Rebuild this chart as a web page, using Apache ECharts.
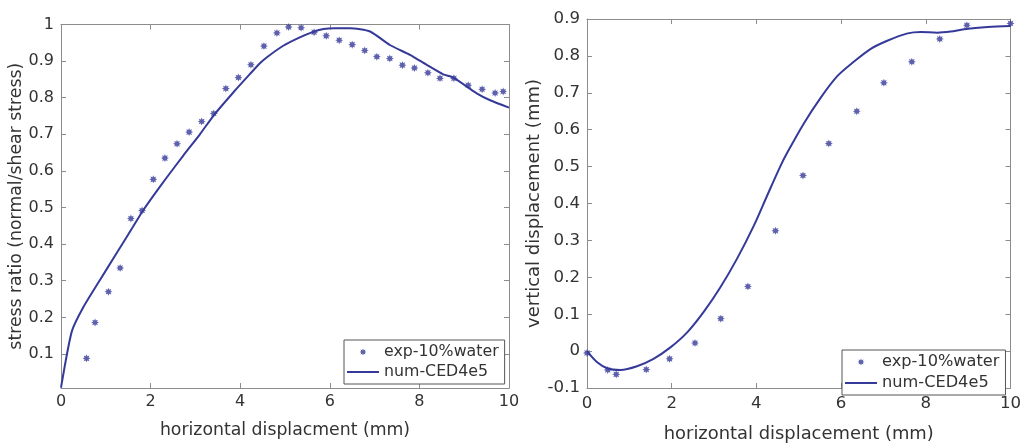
<!DOCTYPE html>
<html>
<head>
<meta charset="utf-8">
<script src="https://cdn.jsdelivr.net/npm/echarts@6/dist/echarts.min.js"></script>
<style>
html,body{margin:0;padding:0;background:#fff;}
#chart{width:1027px;height:448px;}
</style>
</head>
<body>
<div id="chart"></div>
<script>
// ---- data ----
const seriesNames = ['exp-10%water', 'num-CED4e5'];

// left panel: stress ratio vs horizontal displacement
const stressExpX = [0.57,0.76,1.06,1.32,1.56,1.81,2.06,2.32,2.59,2.86,3.14,3.41,3.68,3.96,4.24,4.53,4.82,5.08,5.36,5.65,5.92,6.21,6.50,6.78,7.05,7.34,7.62,7.89,8.19,8.46,8.77,9.09,9.40,9.69,9.87];
const stressExpY = [0.088,0.186,0.270,0.335,0.470,0.492,0.577,0.635,0.674,0.706,0.735,0.757,0.825,0.855,0.890,0.941,0.977,0.993,0.991,0.979,0.969,0.957,0.945,0.929,0.912,0.907,0.889,0.881,0.868,0.853,0.853,0.834,0.823,0.813,0.817];
const stressNumX = [0,0.24,0.5,0.87,1.24,1.61,1.81,2.06,2.36,2.73,3.10,3.41,3.85,4.22,4.44,4.59,4.96,5.33,5.63,5.86,6.1,6.45,6.9,7.34,7.79,8.16,8.53,8.76,9.28,9.58,10];
const stressNumY = [0.008,0.161,0.228,0.302,0.375,0.448,0.488,0.532,0.582,0.642,0.70,0.752,0.815,0.865,0.894,0.91,0.942,0.965,0.98,0.988,0.99,0.99,0.981,0.944,0.917,0.89,0.864,0.855,0.812,0.793,0.773];

// right panel: vertical displacement vs horizontal displacement
const vertExpX = [0,0.49,0.69,1.40,1.95,2.55,3.16,3.80,4.45,5.10,5.71,6.37,7.01,7.67,8.33,8.97,10];
const vertExpY = [-0.005,-0.051,-0.063,-0.050,-0.021,0.022,0.088,0.175,0.326,0.476,0.5625,0.650,0.727,0.784,0.846,0.883,0.888];
const vertNumX = [0,0.24,0.49,0.79,1.18,1.57,1.97,2.36,2.76,3.15,3.55,3.94,4.26,4.57,4.73,5.12,5.52,5.91,6.30,6.70,7.09,7.57,7.88,8.27,8.59,8.90,9.46,10];
const vertNumY = [0,-0.030,-0.047,-0.051,-0.041,-0.021,0.010,0.050,0.107,0.173,0.252,0.340,0.423,0.502,0.538,0.617,0.687,0.745,0.784,0.819,0.841,0.861,0.865,0.863,0.866,0.872,0.878,0.881];

// tick labels
const xTicks = [0,2,4,6,8,10];
const stressYTicks = [0.1,0.2,0.3,0.4,0.5,0.6,0.7,0.8,0.9,1];
const vertYTicks = [-0.1,0,0.1,0.2,0.3,0.4,0.5,0.6,0.7,0.8,0.9];

// ---- styling ----
const BLUE = '#353a99';
const AXIS = '#8c8c8c';
const TXT = '#333333';
const FONT = 'DejaVu Sans';

function zip(xs, ys){ return xs.map((x,i)=>[x, ys[i]]); }

// asterisk-like 8-point star symbol shape
function starPath(){
  const pts = [];
  for (let i=0;i<16;i++){
    const a = Math.PI*i/8 - Math.PI/2;
    const r = (i%2===0) ? 10 : 5.5;
    pts.push((10+r*Math.cos(a)).toFixed(2)+','+(10+r*Math.sin(a)).toFixed(2));
  }
  return 'path://M'+pts.join('L')+'Z';
}
const STAR = starPath();
const LINE_ICON = 'path://M0,0L32,0L32,2L0,2Z';

function fmt(v){ return String(Math.round(v*10)/10); }

function mainX(gridIndex, fs, margin, nameGap){
  return {
    type:'value', gridIndex, min:0, max:10, interval:2, position:'bottom',
    name:'', nameLocation:'middle', nameGap,
    nameTextStyle:{color:TXT, fontFamily:FONT, fontSize:fs+1.3},
    axisLine:{show:true, onZero:false, lineStyle:{color:AXIS, width:1}},
    axisTick:{show:true, inside:true, length:5, lineStyle:{color:AXIS}},
    axisLabel:{show:true, color:TXT, fontFamily:FONT, fontSize:fs, margin, formatter:(v)=>fmt(v)},
    splitLine:{show:false}
  };
}
function topX(gridIndex){
  return {
    type:'value', gridIndex, min:0, max:10, interval:2, position:'top',
    axisLine:{show:true, onZero:false, lineStyle:{color:AXIS, width:1}},
    axisTick:{show:true, inside:true, length:5, lineStyle:{color:AXIS}},
    axisLabel:{show:false}, splitLine:{show:false}
  };
}

const xs0 = mainX(0, 16, 6, 34); xs0.name = 'horizontal displacment (mm)';
const xs1 = mainX(1, 16.6, 7, 37); xs1.name = 'horizontal displacement (mm)';

const yLeft = {
  type:'value', gridIndex:0, min:0.007, max:1, position:'left',
  name:'stress ratio (normal/shear stress)', nameLocation:'middle', nameRotate:90, nameGap:36,
  nameTextStyle:{color:TXT, fontFamily:FONT, fontSize:17.3},
  axisLine:{show:true, onZero:false, lineStyle:{color:AXIS, width:1}},
  axisTick:{show:true, inside:true, length:5, customValues:stressYTicks, lineStyle:{color:AXIS}},
  axisLabel:{show:true, color:TXT, fontFamily:FONT, fontSize:16, margin:7, customValues:stressYTicks, formatter:(v)=>fmt(v)},
  splitLine:{show:false}
};
const yLeftR = {
  type:'value', gridIndex:0, min:0.007, max:1, position:'right',
  axisLine:{show:true, onZero:false, lineStyle:{color:AXIS, width:1}},
  axisTick:{show:true, inside:true, length:5, customValues:stressYTicks, lineStyle:{color:AXIS}},
  axisLabel:{show:false}, splitLine:{show:false}
};
const yRight = {
  type:'value', gridIndex:1, min:-0.1, max:0.9, position:'left',
  name:'vertical displacement (mm)', nameLocation:'middle', nameRotate:90, nameGap:44,
  nameTextStyle:{color:TXT, fontFamily:FONT, fontSize:18},
  axisLine:{show:true, onZero:false, lineStyle:{color:AXIS, width:1}},
  axisTick:{show:true, inside:true, length:5, customValues:vertYTicks, lineStyle:{color:AXIS}},
  axisLabel:{show:true, color:TXT, fontFamily:FONT, fontSize:16.6, margin:7, customValues:vertYTicks, formatter:(v)=>fmt(v)},
  splitLine:{show:false}
};
const yRightR = {
  type:'value', gridIndex:1, min:-0.1, max:0.9, position:'right',
  axisLine:{show:true, onZero:false, lineStyle:{color:AXIS, width:1}},
  axisTick:{show:true, inside:true, length:5, customValues:vertYTicks, lineStyle:{color:AXIS}},
  axisLabel:{show:false}, splitLine:{show:false}
};

function legendCfg(left, top, fs, gap){
  return {
    orient:'vertical', left, top,
    data:[{name:seriesNames[0], icon:STAR}, {name:seriesNames[1], icon:LINE_ICON}],
    itemWidth:32, itemHeight:7, itemGap:gap,
    padding:[4,6,4,3],
    borderColor:'#555', borderWidth:1, backgroundColor:'#fff',
    textStyle:{color:TXT, fontFamily:FONT, fontSize:fs},
    selectedMode:false
  };
}

const option = {
  animation:false,
  backgroundColor:'#fff',
  grid:[
    {left:61, top:24.5, width:448, height:363.5},
    {left:587, top:19, width:423.5, height:379.5}
  ],
  xAxis:[xs0, topX(0), xs1, topX(1)],
  yAxis:[yLeft, yLeftR, yRight, yRightR],
  legend:[legendCfg(344, 340, 15.8, 4), legendCfg(842, 350, 16.2, 5)],
  series:[
    {name:seriesNames[0], type:'scatter', xAxisIndex:0, yAxisIndex:0, data:zip(stressExpX, stressExpY),
     symbol:STAR, symbolSize:8, itemStyle:{color:BLUE}},
    {name:seriesNames[1], type:'line', xAxisIndex:0, yAxisIndex:0, data:zip(stressNumX, stressNumY),
     symbol:'none', smooth:0.2, lineStyle:{color:BLUE, width:2}, itemStyle:{color:BLUE}},
    {name:seriesNames[0], type:'scatter', xAxisIndex:2, yAxisIndex:2, data:zip(vertExpX, vertExpY),
     symbol:STAR, symbolSize:8, itemStyle:{color:BLUE}},
    {name:seriesNames[1], type:'line', xAxisIndex:2, yAxisIndex:2, data:zip(vertNumX, vertNumY),
     symbol:'none', smooth:0.3, lineStyle:{color:BLUE, width:2}, itemStyle:{color:BLUE}}
  ]
};

const chart = echarts.init(document.getElementById('chart'), null, {renderer:'canvas'});
chart.setOption(option);
</script>
</body>
</html>
